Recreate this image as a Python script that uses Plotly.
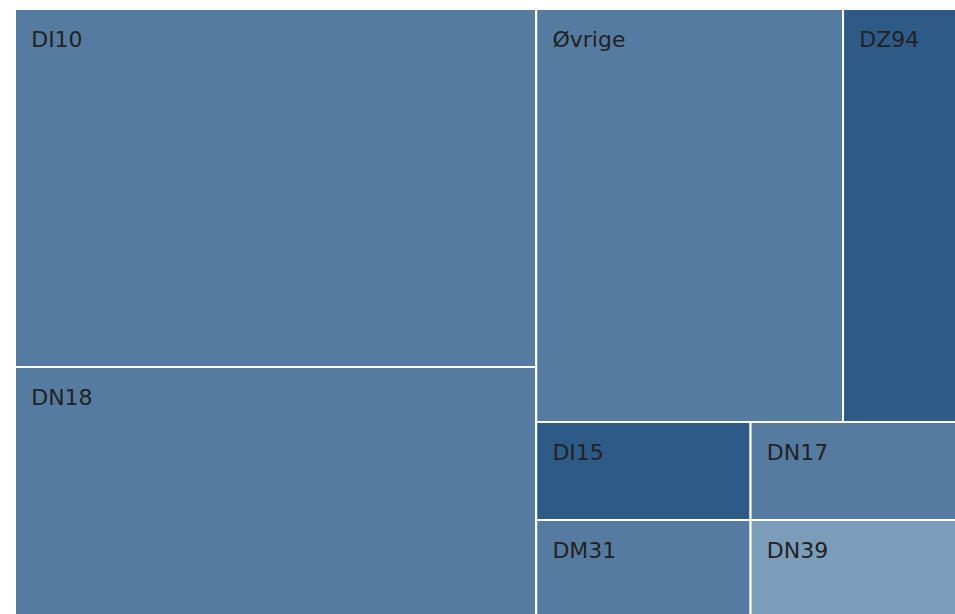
import plotly.graph_objects as go

labels = ["DI10", "DN18", "Øvrige", "DZ94", "DI15", "DM31", "DN17", "DN39"]
values = [3272, 2266, 2222, 818, 368, 357, 353, 342]
colors = ["#557ca0", "#557ca0", "#557ca0", "#2e5a88", "#2e5a88", "#557ca0", "#557ca0", "#7b9dba"]

# tiny first line pushes the label down, spaces indent it
lead = '<span style="font-size:6px">\u00a0</span><br>\u2002\u200a'
texts = [lead + l for l in labels]

fig = go.Figure(go.Treemap(
    labels=labels,
    parents=[""] * len(labels),
    values=values,
    text=texts,
    texttemplate="%{text}",
    textposition="top left",
    sort=False,
    tiling=dict(squarifyratio=1.7, pad=0),
    marker=dict(colors=colors, line=dict(color="white", width=2),
                pad=dict(t=0, l=0, r=0, b=0)),
    textfont=dict(family="DejaVu Sans", size=22, color="#222222"),
    pathbar=dict(visible=False),
    hoverinfo="label+value",
))
fig.update_layout(
    width=956, height=615,
    margin=dict(l=15, r=0, t=9, b=0),
    paper_bgcolor="white",
)
fig.write_html(
    "out.html",
    config={"displayModeBar": False},
    post_script="document.body.style.margin='0';document.body.style.overflow='hidden';",
)
